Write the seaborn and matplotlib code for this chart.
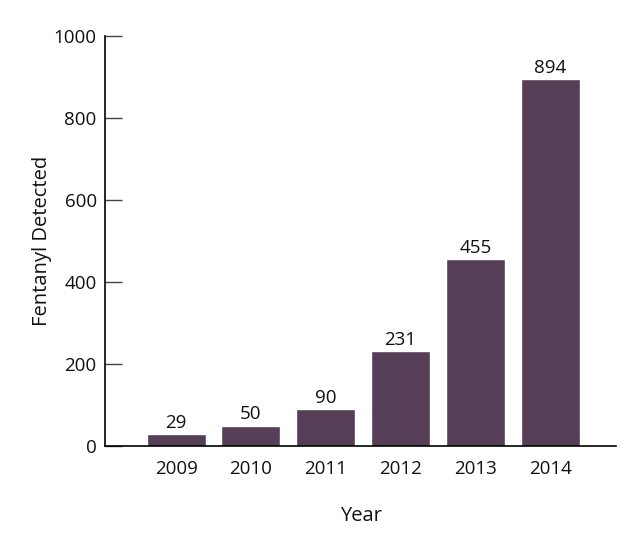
import matplotlib
matplotlib.use("Agg")
import matplotlib.pyplot as plt
import seaborn as sns
import pandas as pd

years = ["2009", "2010", "2011", "2012", "2013", "2014"]
detected = [29, 50, 90, 231, 455, 894]
y_ticks = [0, 200, 400, 600, 800, 1000]

sns.set_style("white")
plt.rcParams["font.family"] = ["Open Sans", "DejaVu Sans"]
plt.rcParams["text.color"] = "#111111"

df = pd.DataFrame({"Year": years, "Fentanyl Detected": detected})

fig = plt.figure(figsize=(6.44, 5.54), dpi=100)
ax = fig.add_axes([105 / 644, 1 - 446 / 554, (616 - 105) / 644, (446 - 36) / 554])

sns.barplot(data=df, x="Year", y="Fentanyl Detected", color="#563e57",
            saturation=1, width=0.79, ax=ax)

for i, v in enumerate(detected):
    ax.text(i, v + 6, str(v), ha="center", va="bottom", fontsize=13.5, color="#111111")

ax.set_xlim(-0.95, 5.88)
ax.set_ylim(0, 1000)
ax.set_yticks(y_ticks)
sns.despine(ax=ax, top=True, right=True)
for s in ["left", "bottom"]:
    ax.spines[s].set_color("black")
    ax.spines[s].set_linewidth(1.2)

ax.tick_params(axis="y", direction="in", length=12, width=1, color="#444444",
               labelsize=13.5, pad=6, left=True, labelcolor="#111111")
ax.tick_params(axis="x", length=0, labelsize=13.5, pad=10, labelcolor="#111111")
ax.set_xlabel("Year", fontsize=14.5, labelpad=20, color="#111111")
ax.set_ylabel("Fentanyl Detected", fontsize=14.5, color="#111111")
ax.yaxis.set_label_coords(-0.104, 0.5)

fig.savefig("out.png", dpi=100)
